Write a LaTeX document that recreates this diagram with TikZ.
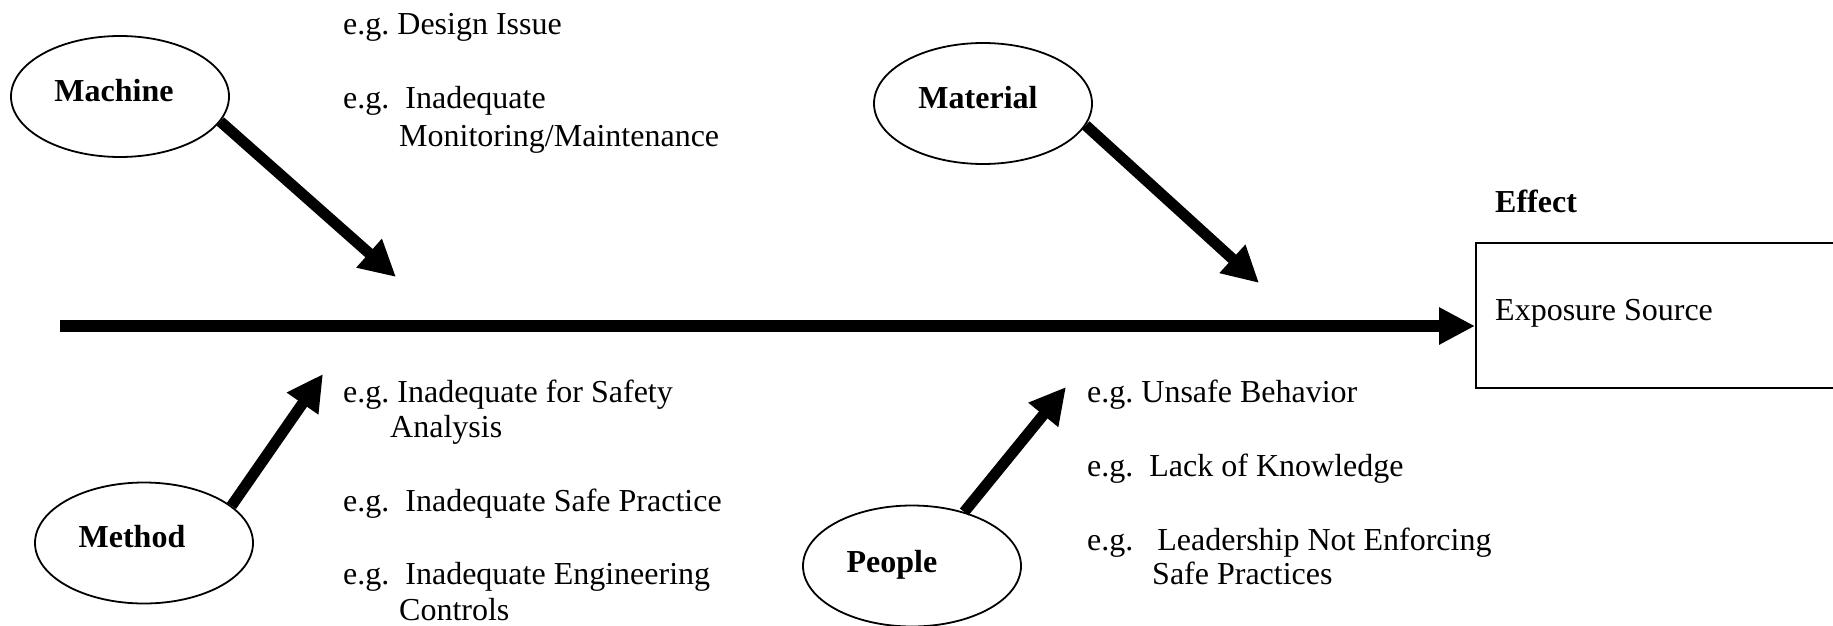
\documentclass[tikz,border=0pt]{standalone}
\usepackage{fontspec}
\setmainfont{Liberation Serif}
\usetikzlibrary{arrows.meta,shapes.geometric}
\frenchspacing
\begin{document}
\begin{tikzpicture}[x=1pt,y=-1pt,
  cause/.style={draw,ellipse,line width=1.8pt,minimum width=218pt,minimum height=121pt,inner sep=0pt},
  lbl/.style={font=\fontsize{32}{38}\selectfont\bfseries,anchor=base,inner sep=0pt},
  txt/.style={font=\fontsize{32}{38}\selectfont,anchor=base west,inner sep=0pt},
  bone/.style={line width=11pt,-{Triangle[length=36pt,width=36pt]}},
  spine/.style={line width=12pt,-{Triangle[length=36pt,width=35pt]}},
  effbox/.style={draw,line width=2pt,minimum width=440pt,minimum height=145pt,anchor=north west,inner sep=0pt}
]
\path[use as bounding box] (0,0) rectangle (1833,626);
\clip (0,0) rectangle (1833,626);

% cause ellipses
\node[cause] (machine) at (120,96.5) {};
\node[cause] (material) at (983,103.5) {};
\node[cause] (method) at (144,543) {};
\node[cause] (people) at (912,566) {};

\node[lbl] (machineL) at (114,101) {Machine};
\node[lbl] (materialL) at (978,108) {Material};
\node[lbl] (methodL) at (132,547) {Method};
\node[lbl] (peopleL) at (892,572) {People};

% effect
\node[effbox] (effect) at (1475,242) {};
\node[lbl,anchor=base west] (effectL) at (1495,212) {Effect};
\node[txt] (exposure) at (1495,320) {Exposure Source};

% spine
\coordinate (tail) at (60,326);
\draw[spine] (tail) -- (tail -| effect.west);

% bones
\coordinate (mtip) at (396,277);
\coordinate (matip) at (1259,283);
\coordinate (metip) at (323,374);
\coordinate (ptip) at (1066,387);
\draw[bone] (machine.-14) -- (mtip);
\draw[bone] (material.-12.5) -- (matip);
\draw[bone] (method.23) -- (metip);
\draw[bone] (people.46) -- (ptip);

% machine examples
\node[txt] (m1) at (343,35) {e.g. Design Issue};
\node[txt] (m2) at (343,108) {e.g.\ \ Inadequate};
\node[txt] (m2b) at (399,146) {Monitoring/Maintenance};

% method examples
\node[txt] (t1) at (343,402) {e.g. Inadequate for Safety};
\node[txt] (t1b) at (390,437) {Analysis};
\node[txt] (t2) at (343,511) {e.g.\ \ Inadequate Safe Practice};
\node[txt] (t3) at (343,584) {e.g.\ \ Inadequate Engineering};
\node[txt] (t3b) at (399,620) {Controls};

% people examples
\node[txt] (p1) at (1087,402) {e.g. Unsafe Behavior};
\node[txt] (p2) at (1087,476) {e.g.\ \ Lack of Knowledge};
\node[txt] (p3) at (1087,550) {e.g.\ \ \ Leadership Not Enforcing};
\node[txt] (p3b) at (1152,584) {Safe Practices};
\end{tikzpicture}
\end{document}
